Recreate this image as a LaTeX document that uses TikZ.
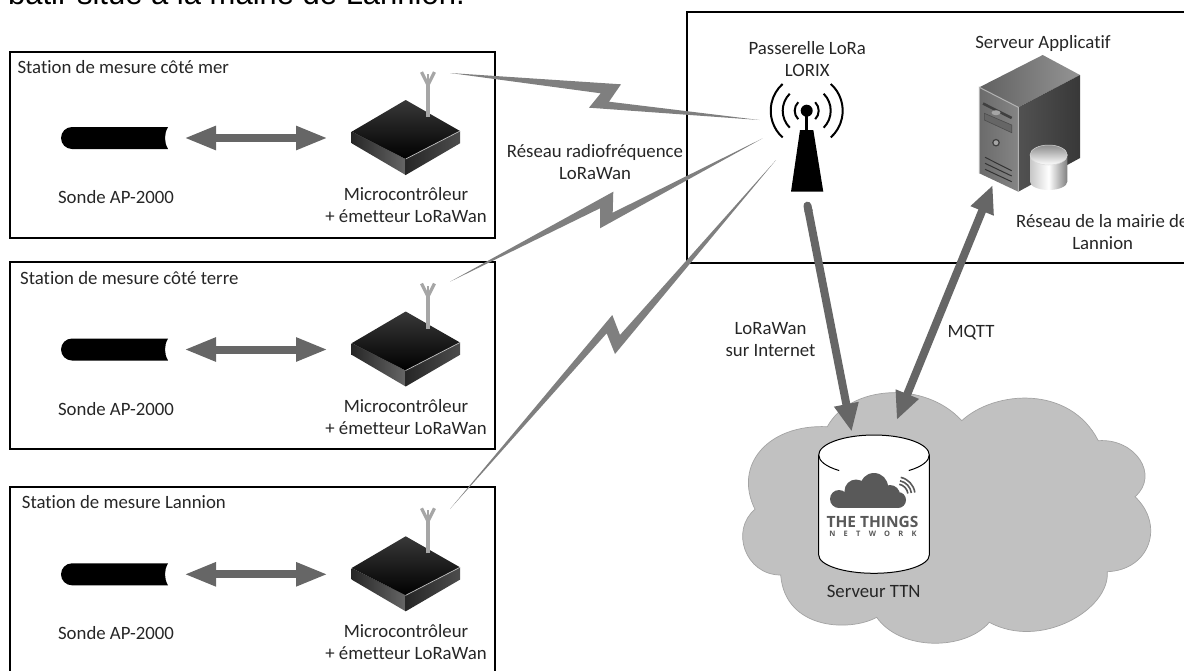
\documentclass[tikz,border=0pt]{standalone}
\usepackage{fontspec}
\setmainfont[Ligatures=NoCommon]{Carlito}
\newfontfamily\topfont{Liberation Sans}
\newfontfamily\logofont{Open Sans}
\usetikzlibrary{arrows.meta,shapes.geometric}
\definecolor{arrowgray}{HTML}{666666}
\definecolor{boltgray}{HTML}{7F7F7F}
\definecolor{antgray}{HTML}{A6A6A6}
\definecolor{cloudgray}{HTML}{C1C1C1}
\definecolor{cloudedge}{HTML}{A3A3A3}
\definecolor{logogray}{HTML}{595959}
\definecolor{txt}{HTML}{262626}
\tikzset{
  framebox/.style={draw=black,line width=2pt,fill=none},
  lbl/.style={inner sep=0pt,align=center,text=txt,font=\fontsize{18.8}{22}\selectfont},
  titlelbl/.style={lbl,anchor=west},
  biarrow/.style={draw=arrowgray,line width=8pt,{Triangle[length=32pt,width=22pt]}-{Triangle[length=32pt,width=22pt]}},
  netarrow/.style={draw=arrowgray,line width=8pt,{Round Cap[]}-{Triangle[length=28pt,width=23pt]}},
  netbiarrow/.style={draw=arrowgray,line width=8pt,{Triangle[length=28pt,width=23pt]}-{Triangle[length=28pt,width=23pt]}},
  bolt/.style={fill=boltgray,draw=none},
  pics/station/.style={code={
    \fill[black] (168,127) -- (72,127) arc[start angle=270,end angle=90,radius=11] -- (168,149)
       .. controls (164,142) and (164,134) .. (168,127) -- cycle;
    \coordinate (-pa) at (184,138);
    \coordinate (-pb) at (328,138);
    \draw[biarrow] (-pa) -- (-pb);
    \shade[left color=black!85!white,right color=black!60!white] (351.7,131.7) -- (405.7,159) -- (405.7,175) -- (351.7,143.3) -- cycle;
    \shade[left color=black!85!white,right color=black!70!white] (405.7,159) -- (460,131) -- (460,143.3) -- (405.7,175) -- cycle;
    \shade[top color=black!78!white,bottom color=black] (405.7,100) -- (460,131) -- (405.7,159) -- (351.7,131.7) -- cycle;
    \draw[white!75!black,line width=0.7pt] (405.7,159) -- (460,131);
    \draw[antgray,line width=4.5pt] (428,117) -- (428,82);
    \draw[antgray,line width=3.2pt] (428,85) -- (421.5,72);
    \draw[antgray,line width=3.2pt] (428,85) -- (434.5,72);
    \draw[antgray,line width=2.6pt] (428,84) -- (428,74);
  }}
}
\begin{document}
\begin{tikzpicture}[x=1pt,y=-1pt]
\useasboundingbox (0,0) rectangle (1184,670);
\clip (0,0) rectangle (1184,670);

\node[anchor=base east,inner sep=0pt,font=\topfont\fontsize{31}{31}\selectfont] (headline) at (465,4) {bâtir situé à la mairie de Lannion.};

% frames
\node[framebox,minimum width=485pt,minimum height=186pt,inner sep=0pt] (st1) at (252.5,144.5) {};
\node[framebox,minimum width=485pt,minimum height=187pt,inner sep=0pt] (st2) at (252.5,355.5) {};
\node[framebox,minimum width=485pt,minimum height=190pt,inner sep=0pt] (st3) at (252.5,582) {};
\node[framebox,minimum width=530pt,minimum height=251pt,inner sep=0pt] (net) at (952,137.5) {};

% station contents
\pic (s1) at (0,0) {station};
\pic (s2) at (0,211.5) {station};
\pic (s3) at (0,436.3) {station};

\node[titlelbl] (t1) at (17.3,66.7) {Station de mesure côté mer};
\node[titlelbl] (t2) at (20,278) {Station de mesure côté terre};
\node[titlelbl] (t3) at (21.7,502) {Station de mesure Lannion};
\node[lbl] (sa) at (116,197) {Sonde AP-2000};
\node[lbl] (sb) at (116,409) {Sonde AP-2000};
\node[lbl] (sc) at (116,633) {Sonde AP-2000};
\node[lbl] (ma) at (406,205) {Microcontrôleur\\+ émetteur LoRaWan};
\node[lbl] (mb) at (406,417) {Microcontrôleur\\+ émetteur LoRaWan};
\node[lbl] (mc) at (406,642) {Microcontrôleur\\+ émetteur LoRaWan};

% radio links
\coordinate (ant1) at (450,73);
\coordinate (ant2) at (450,281.7);
\coordinate (ant3) at (450,509);
\coordinate (gw1) at (759.3,120);
\coordinate (gw2) at (762.7,138.3);
\coordinate (gw3) at (776,160);
\fill[bolt] (ant1) -- (621,84.3) -- (609,101.7) -- (gw1) -- (589,107.7) -- (600.7,93.3) -- cycle;
\fill[bolt] (ant2) -- (613.3,191.7) -- (612.7,212.7) -- (gw2) -- (600,228.3) -- (600,208.3) -- cycle;
\fill[bolt] (ant3) -- (612.3,315) -- (620,335) -- (gw3) -- (615,354) -- (606.7,333.3) -- cycle;
\node[lbl] (rf) at (595,161.7) {Réseau radiofréquence\\LoRaWan};

% gateway
\node[lbl] (gwl) at (807.3,59) {Passerelle LoRa\\LORIX};
\fill[black] (800,130) -- (813.3,130) -- (823.3,191.7) -- (791,191.7) -- cycle;
\draw[black,line width=2.5pt] (806.7,112) -- (806.7,130);
\fill[black] (806.7,110.7) circle[radius=6];
\foreach \r/\a/\w in {12/45/2,24/45/2,36/48/2}{
  \draw[black,line width=\w pt] (806.7,110.7) ++(-\a:\r) arc[start angle=-\a,end angle=\a,radius=\r];
  \draw[black,line width=\w pt] (806.7,110.7) ++(180-\a:\r) arc[start angle=180-\a,end angle=180+\a,radius=\r];
}

% application server
\node[lbl] (srvl) at (1043,43) {Serveur Applicatif};
\shade[left color=black!62!white,right color=black!42!white] (1042.7,55) -- (1080,75) -- (1018.3,107.3) -- (979.3,87.3) -- cycle;
\shade[left color=black!68!white,right color=black!78!white] (1018.3,107.3) -- (1080,75) -- (1080,158) -- (1018.3,191.7) -- cycle;
\shade[left color=black!58!white,right color=black!48!white] (979.3,87.3) -- (1018.3,107.3) -- (1018.3,191.7) -- (979.3,173.3) -- cycle;
\draw[white!70!black,line width=1pt] (979.3,173.3) -- (979.3,87.3) -- (1018.3,107.3) -- (1018.3,191.7);
\draw[black!75!white,line width=2.5pt] (983,103.5) -- (1011.7,118);
\fill[black!35!white] (996,112.7) ellipse[x radius=4.5,y radius=2.5];
\fill[black!60!white,draw=black!70!white,line width=0.6pt] (984.3,113.3) -- (1011.7,125) -- (1011.7,132.7) -- (984.3,120) -- cycle;
\draw[black!75!white,line width=1.2pt,fill=black!35!white] (996,142.7) circle[radius=3.2];
\draw[black!80!white,line width=1pt] (985,157.3) -- (1011.7,170.7) (985,163.3) -- (1011.7,176) (985,169.3) -- (1011.7,181.7);
\shade[left color=black!22!white,right color=black!50!white,middle color=white] (1030,155) -- (1067.3,155) -- (1067.3,181.7) arc[start angle=0,end angle=180,x radius=18.65,y radius=8.3] -- cycle;
\shade[top color=black!45!white,bottom color=white,draw=white!85!black,line width=0.5pt] (1048.65,155) ellipse[x radius=18.65,y radius=10];
\node[lbl,anchor=west] (mair1) at (1016,221) {Réseau de la mairie de};
\node[lbl] (mair2) at (1102.7,242.7) {Lannion};

% cloud
\path[fill=cloudgray,draw=cloudedge,line width=0.7pt] (755,509.3)
  .. controls (733,465) and (768,424) .. (827.3,426.7)
  .. controls (850,385) and (925,380) .. (961.7,420.7)
  .. controls (995,390) and (1070,385) .. (1098.3,440.7)
  .. controls (1135,438) and (1160,475) .. (1135,496.7)
  .. controls (1165,525) and (1150,570) .. (1107.3,571.7)
  .. controls (1110,610) and (1040,650) .. (989.3,622.3)
  .. controls (965,651) and (900,651) .. (876.7,617.3)
  .. controls (850,632) and (785,630) .. (780.7,575)
  .. controls (745,575) and (730,530) .. (755,509.3) -- cycle;

% TTN cylinder
\path[fill=white,draw=black,line width=1pt] (818.7,455) arc[start angle=180,end angle=360,x radius=55.3,y radius=20] -- (929.3,555)
   arc[start angle=0,end angle=180,x radius=55.3,y radius=18.3] -- cycle;
\draw[black,line width=1pt] (818.7,455) arc[start angle=180,end angle=129,x radius=55.3,y radius=20];
\draw[black,line width=1pt] (929.3,455) arc[start angle=0,end angle=51,x radius=55.3,y radius=20];
\node[lbl] (ttnl) at (873.7,591.7) {Serveur TTN};

% TTN logo
\fill[logogray] (839,499) circle[radius=9] (856,491) circle[radius=11.5] (874,487) circle[radius=14] (890,495) circle[radius=10] (898,500) circle[radius=8];
\fill[logogray] (838,496) rectangle (898,508);
\foreach \r in {11,14.5,18}{
  \draw[logogray,line width=1.6pt] (897,495) ++(-78:\r) arc[start angle=-78,end angle=-8,radius=\r];
}
\node[inner sep=0pt,text=logogray,font=\logofont\bfseries\fontsize{15.5}{15.5}\selectfont] (logo1) at (872.5,521.5) {THE THINGS};
\node[inner sep=0pt,text=logogray,font=\logofont\bfseries\fontsize{7.5}{7.5}\selectfont\addfontfeature{LetterSpace=110}] (logo2) at (873,533.5) {NETWORK};

% network links
\coordinate (gwbase) at (806.7,201.7);
\coordinate (ttnin) at (851.7,431.7);
\coordinate (srvin) at (992.7,185);
\coordinate (ttnout) at (896.7,420);
\draw[netarrow] (gwbase) -- (ttnin);
\draw[netbiarrow] (ttnout) -- (srvin);
\node[lbl] (inet) at (770.5,340) {LoRaWan\\sur Internet};
\node[lbl] (mqtt) at (971,333) {MQTT};
\end{tikzpicture}
\end{document}
